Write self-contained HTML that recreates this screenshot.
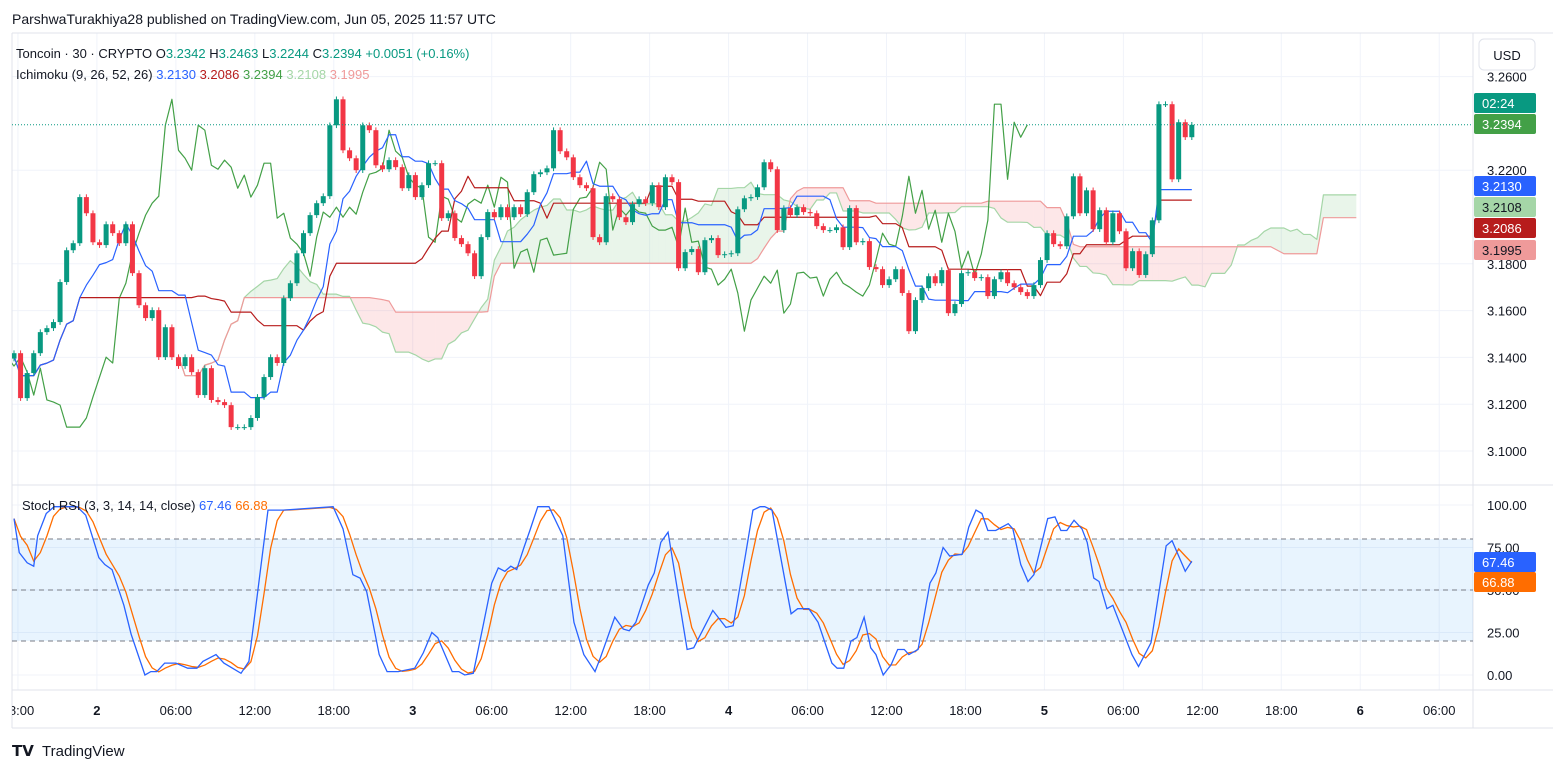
<!DOCTYPE html>
<html><head><meta charset="utf-8">
<style>
body{margin:0;background:#fff;font-family:"Liberation Sans",sans-serif;}
svg{display:block}
text{font-family:"Liberation Sans",sans-serif;}
</style></head>
<body>
<svg id="chart" width="1553" height="772" viewBox="0 0 1553 772" xmlns="http://www.w3.org/2000/svg">
<defs><clipPath id="plotclip"><rect x="12" y="33" width="1461" height="660"/></clipPath></defs>
<rect x="0" y="0" width="1553" height="772" fill="#fff"/>
<text x="12" y="24" font-size="14" fill="#131722">ParshwaTurakhiya28 published on TradingView.com, Jun 05, 2025 11:57 UTC</text>
<g id="grid"></g>
<g id="cloud" clip-path="url(#plotclip)"></g>
<g id="lines" clip-path="url(#plotclip)"></g>
<g id="candles" clip-path="url(#plotclip)"></g>
<g id="stoch"></g>
<g id="axes"></g>
<g font-size="13">
<text x="16" y="58" fill="#131722">Toncoin · 30 · CRYPTO  <tspan fill="#131722">O</tspan><tspan fill="#089981">3.2342</tspan> <tspan fill="#131722">H</tspan><tspan fill="#089981">3.2463</tspan> <tspan fill="#131722">L</tspan><tspan fill="#089981">3.2244</tspan> <tspan fill="#131722">C</tspan><tspan fill="#089981">3.2394 +0.0051 (+0.16%)</tspan></text>
<text x="16" y="79" fill="#131722">Ichimoku (9, 26, 52, 26) <tspan fill="#2962FF"> 3.2130</tspan><tspan fill="#B71C1C">  3.2086</tspan><tspan fill="#43A047">  3.2394</tspan><tspan fill="#A5D6A7">  3.2108</tspan><tspan fill="#EF9A9A">  3.1995</tspan></text>
<text x="22" y="510" fill="#131722">Stoch RSI (3, 3, 14, 14, close) <tspan fill="#2962FF"> 67.46</tspan><tspan fill="#FF6D00">  66.88</tspan></text>
</g>
<g>
<rect x="1479" y="39" width="56" height="31" rx="5" fill="#fff" stroke="#e0e3eb"/>
<text x="1507" y="60" font-size="13" text-anchor="middle" fill="#131722">USD</text>
</g>
<g>
<text x="12" y="756" font-size="15" font-weight="bold" fill="#131722">𝗧𝗩</text>
<text x="42" y="756" font-size="15" fill="#131722">TradingView</text>
</g>
<g id="tags"></g>
</svg>
<script>
const closes=[3.1418,3.1226,3.1333,3.1418,3.1508,3.1525,3.1551,3.1722,3.1858,3.1888,3.2085,3.2016,3.1892,3.1880,3.1969,3.1931,3.1888,3.1969,3.1760,3.1623,3.1568,3.1602,3.1401,3.1529,3.1401,3.1363,3.1401,3.1337,3.1239,3.1354,3.1218,3.1209,3.1196,3.1102,3.1102,3.1102,3.1141,3.1231,3.1316,3.1401,3.1376,3.1653,3.1717,3.1845,3.1931,3.2008,3.2059,3.2089,3.2392,3.2503,3.2285,3.2251,3.2200,3.2392,3.2371,3.2221,3.2204,3.2243,3.2213,3.2123,
3.2179,3.2085,3.2136,3.2230,3.2230,3.1995,3.2016,3.1910,3.1884,3.1845,3.1747,3.1914,3.2021,3.1999,3.2042,3.1999,3.2042,3.2012,3.2106,3.2183,3.2191,3.2208,3.2371,3.2281,3.2255,3.2170,3.2136,3.2123,3.1914,3.1892,3.2089,3.2076,3.1999,3.1978,3.2055,3.2076,3.2059,3.2136,3.2042,3.2170,3.2149,3.1781,3.1850,3.1863,3.1764,3.1901,3.1910,3.1837,3.1841,3.1845,3.2033,3.2080,3.2085,3.2127,3.2234,3.2204,3.1944,3.2038,3.2008,3.2042,
3.2021,3.2016,3.1961,3.1944,3.1944,3.1956,3.1871,3.2038,3.1892,3.1897,3.1786,3.1777,3.1709,3.1734,3.1777,3.1675,3.1512,3.1645,3.1696,3.1747,3.1717,3.1773,3.1589,3.1628,3.1760,3.1764,3.1739,3.1743,3.1662,3.1734,3.1764,3.1717,3.1700,3.1679,3.1662,3.1709,3.1816,3.1931,3.1884,3.1875,3.2003,3.2174,3.2016,3.2114,3.1948,3.2029,3.1892,3.2016,3.1939,3.1781,3.1854,3.1752,3.1841,3.1986,3.2482,3.2482,3.2161,3.2405,3.2341,3.2394];
const firstOpen=3.1395;
const stochIdx=[0,0.8,2,3,3.6,4.9,6.1,9.6,10.9,12.9,13.8,14.9,16.7,17.8,19.9,20.8,21.7,22.9,24.6,26.4,27.8,28.7,30.7,31.9,34.5,35.7,38.6,40.9,48.5,50,51.5,52.6,53.6,55.5,56.7,58.4,60.9,62.2,63.5,64.4,66.6,67.6,68.5,69.8,71.4,72.6,73.6,74.6,75.5,76.4,77.5,78.4,79.6,81.3,83.4,85.1,86.6,88.3,89.1,91.3,92.6,93.5,94.5,96.4,97.3,98.3,99.4,102.3,103.3,106.2,108.2,109.3,111.1,112.3,113.4,114.1,115.2,118.1,119.1,120.8,122.2,124.3,125.1,126.1,127.2,128.1,129.2,130.2,131,132.1,133.3,134.3,135.3,136,137.4,139.2,140.1,141.2,142.2,144.1,145.1,146.2,147.1,148,149.2,151.1,151.8,153,154.1,155,157.1,158.2,159.1,160,161.1,162.3,163.1,164.1,164.9,166.1,167,169.9,170.9,172.8,175.1,176,178,179];
const stochK=[92,72,66,64,82,95,99,99,94,69,65,62,41,24,0,2,2,7,7,4,4,8,12,7,1,8,97,97,99,86,59,57,49,12,2,2,4,13,25,22,2,2,0,1,31,54,63,61,64,62,75,85,99,99,82,31,12,2,10,34,27,26,31,53,60,78,84,15,16,38,28,29,69,97,99,99,97,36,39,39,31,7,4,4,20,22,34,16,12,0,6,15,15,12,15,54,60,75,70,71,87,97,95,85,85,89,86,65,55,59,92,93,85,85,91,86,78,57,55,39,41,12,5,19,76,79,61,67];
const priceTicks=[3.26,3.22,3.18,3.16,3.14,3.12,3.10];
const stochTicks=[100,75,50,25,0];
const timeLabels=["18:00","2","06:00","12:00","18:00","3","06:00","12:00","18:00","4","06:00","12:00","18:00","5","06:00","12:00","18:00","6","06:00"];
const firstLabelIdx=0.6;

const NS="http://www.w3.org/2000/svg";
function mk(tag,attrs,parent){const e=document.createElementNS(NS,tag);for(const k in attrs)e.setAttribute(k,attrs[k]);parent.appendChild(e);return e;}
const X=i=>14+i*6.58;
const Y=p=>451-(p-3.10)*2340;
const SY=v=>675-v*1.7;
const N=closes.length;
const opens=closes.map((c,i)=>i===0?firstOpen:closes[i-1]);
const highs=closes.map((c,i)=>Math.max(c,opens[i])+0.0012);
const lows=closes.map((c,i)=>Math.min(c,opens[i])-0.0012);

// grid & axes
const grid=document.getElementById('grid'),axes=document.getElementById('axes');
priceTicks.forEach(p=>{const l=mk('line',{x1:12,x2:1473,y1:Y(p),y2:Y(p),stroke:'#f0f3fa'},grid);
 const t=mk('text',{x:1487,y:Y(p)+5,'font-size':13,fill:'#131722'},axes);t.textContent=p.toFixed(4);});
stochTicks.forEach(v=>{const l=mk('line',{x1:12,x2:1473,y1:SY(v),y2:SY(v),stroke:'#f0f3fa'},grid);
 const t=mk('text',{x:1487,y:SY(v)+5,'font-size':13,fill:'#131722'},axes);t.textContent=v.toFixed(2);});
timeLabels.forEach((s,k)=>{const x=X(firstLabelIdx+12*k);const l=mk('line',{x1:x,x2:x,y1:33,y2:690,stroke:'#f0f3fa'},grid);
 const bold=/^\d$/.test(s);const t=mk('text',{x:x,y:715,'font-size':13,'text-anchor':'middle',fill:'#131722','font-weight':bold?'bold':'normal','clip-path':'url(#plotclip2)'},axes);t.textContent=s;});
mk('line',{x1:12,x2:1553,y1:485,y2:485,stroke:'#e0e3eb'},grid);
mk('line',{x1:12,x2:1553,y1:690,y2:690,stroke:'#e0e3eb'},grid);
mk('line',{x1:12,x2:1553,y1:33,y2:33,stroke:'#e0e3eb'},grid);
mk('line',{x1:12,x2:1553,y1:728,y2:728,stroke:'#e0e3eb'},grid);
mk('line',{x1:1473,x2:1473,y1:33,y2:728,stroke:'#e0e3eb'},grid);
mk('line',{x1:12,x2:12,y1:33,y2:728,stroke:'#e0e3eb'},grid);
const defs=document.querySelector('defs');const cp=mk('clipPath',{id:'plotclip2'},defs);mk('rect',{x:12,y:690,width:1461,height:38},cp);

// ichimoku
function mid(i,len){let h=-1e9,l=1e9;for(let j=Math.max(0,i-len+1);j<=i;j++){h=Math.max(h,highs[j]);l=Math.min(l,lows[j]);}return (h+l)/2;}
const tenkan=closes.map((c,i)=>mid(i,9)),kijun=closes.map((c,i)=>mid(i,26));
const spanA=[],spanB=[];
for(let i=0;i<N;i++){spanA[i+25]=(tenkan[i]+kijun[i])/2;spanB[i+25]=mid(i,52);}
const cloud=document.getElementById('cloud');
for(let i=25;i<N+24;i++){
 const a0=spanA[i],a1=spanA[i+1],b0=spanB[i],b1=spanB[i+1];
 const up=(a0+a1)>=(b0+b1);
 const pg=mk('polygon',{points:`${X(i)},${Y(a0)} ${X(i+1)},${Y(a1)} ${X(i+1)},${Y(b1)} ${X(i)},${Y(b0)}`,fill:up?'rgba(76,175,80,0.12)':'rgba(242,54,69,0.12)'},cloud);
 
}
const lines=document.getElementById('lines');
function poly(pts,color,name,w){const p=mk('polyline',{points:pts.join(' '),fill:'none',stroke:color,'stroke-width':w||1.2,'stroke-linejoin':'round'},lines);}
let pa=[],pb=[];for(let i=25;i<N+25;i++){pa.push(X(i)+','+Y(spanA[i]));pb.push(X(i)+','+Y(spanB[i]));}
poly(pa,'#A5D6A7','leading-span-a');poly(pb,'#EF9A9A','leading-span-b');
poly(closes.map((c,i)=>X(i-25)+','+Y(c)),'#43A047','lagging-span');
poly(kijun.map((v,i)=>X(i)+','+Y(v)),'#B71C1C','base-line');
poly(tenkan.map((v,i)=>X(i)+','+Y(v)),'#2962FF','conversion-line');

// candles
const cg=document.getElementById('candles');
for(let i=0;i<N;i++){
 const up=closes[i]>=opens[i],col=up?'#089981':'#F23645',x=X(i);
 const w=mk('line',{x1:x,x2:x,y1:Y(highs[i]),y2:Y(lows[i]),stroke:col,'stroke-width':1},cg);
 
 const t=Y(Math.max(opens[i],closes[i])),b=Y(Math.min(opens[i],closes[i]));
 const r=mk('rect',{x:x-2.5,y:t,width:5,height:Math.max(1,b-t),fill:col},cg);
 
}
const pl=mk('line',{x1:12,x2:1473,y1:Y(closes[N-1]),y2:Y(closes[N-1]),stroke:'#089981','stroke-dasharray':'1 2'},cg);


// stoch
const sg=document.getElementById('stoch');
const band=mk('rect',{x:12,y:SY(80),width:1461,height:SY(20)-SY(80),fill:'rgba(33,150,243,0.1)'},sg);

[80,50,20].forEach(v=>{const l=mk('line',{x1:12,x2:1473,y1:SY(v),y2:SY(v),stroke:'#787b86','stroke-dasharray':'5 4'},sg);});
// K per candle from samples, D = SMA3
const kc=[];for(let i=0;i<N;i++){let j=0;while(j<stochIdx.length-2&&stochIdx[j+1]<i)j++;const x0=stochIdx[j],x1=stochIdx[j+1];const f=Math.min(1,Math.max(0,(i-x0)/(x1-x0||1)));kc.push(stochK[j]+(stochK[j+1]-stochK[j])*f);}
const dc=kc.map((v,i)=>{let s=0,n=0;for(let j=Math.max(0,i-2);j<=i;j++){s+=kc[j];n++;}return s/n;});
const dl=mk('polyline',{points:dc.map((v,i)=>X(i)+','+SY(v)).join(' '),fill:'none',stroke:'#FF6D00','stroke-width':1.3},sg);

const kl=mk('polyline',{points:stochK.map((v,k)=>X(stochIdx[k])+','+SY(v)).join(' '),fill:'none',stroke:'#2962FF','stroke-width':1.3},sg);


// tags
const tags=document.getElementById('tags');
function tag(y,txt,bg,fg,name){const g=mk('g',{},tags);
 mk('rect',{x:1474,y:y-10,width:62,height:20,rx:2,fill:bg},g);const t=mk('text',{x:1482,y:y+5,'font-size':13,fill:fg},g);t.textContent=txt;}
tag(103,'02:24','#089981','#fff','countdown-tag');
tag(124,'3.2394','#43A047','#fff','last-price-tag');
tag(186,'3.2130','#2962FF','#fff','conversion-tag');
tag(207,'3.2108','#A5D6A7','#131722','span-a-tag');
tag(228,'3.2086','#B71C1C','#fff','base-tag');
tag(250,'3.1995','#EF9A9A','#131722','span-b-tag');
tag(562,'67.46','#2962FF','#fff','stoch-k-tag');
tag(582,'66.88','#FF6D00','#fff','stoch-d-tag');
</script>
</body></html>
